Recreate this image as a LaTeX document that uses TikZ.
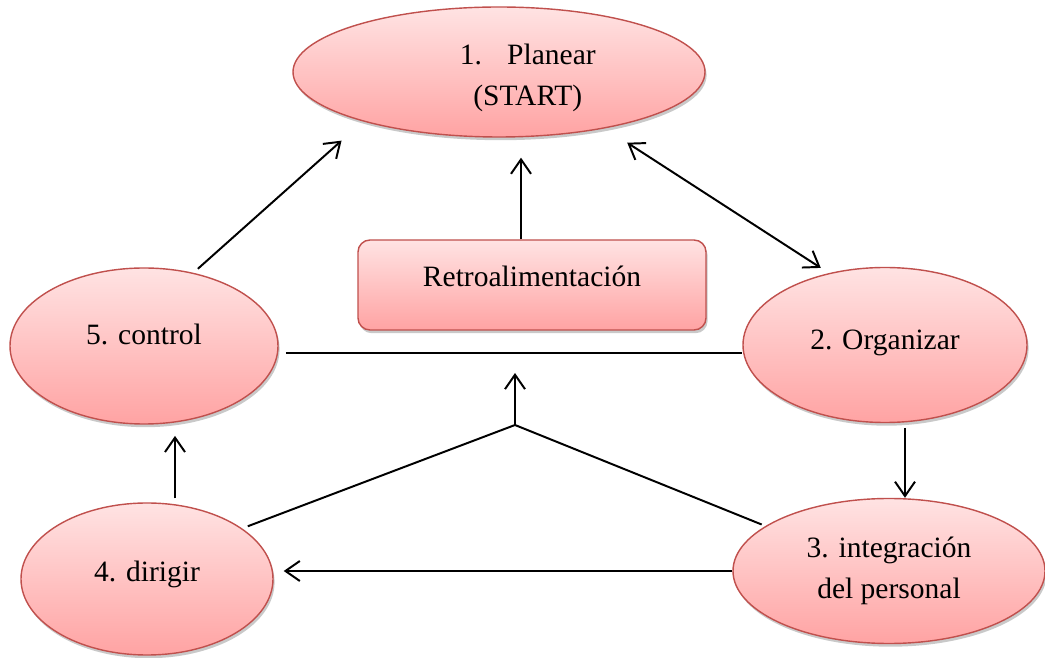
\documentclass[tikz,border=0pt]{standalone}
\usepackage{fontspec}
\setmainfont{Liberation Serif}
\usepackage[HTML]{xcolor}
\usetikzlibrary{positioning, arrows.meta, shapes.geometric, shadows}

\definecolor{pinktop}{HTML}{FFE3E3}
\definecolor{pinkbot}{HTML}{FFA3A3}
\definecolor{rimred}{HTML}{C0504D}

\tikzset{
  box/.style={draw=rimred, line width=1pt, top color=pinktop, bottom color=pinkbot,
    drop shadow={shadow xshift=0.04cm, shadow yshift=-0.08cm, opacity=0.3, fill=black!70},
    font=\fontsize{21}{29}\selectfont, align=center, inner sep=0pt},
  ell/.style={box, ellipse},
  lift/.style={text depth=#1},
  conn/.style={line width=1.4pt, black},
  >={Straight Barb[length=3.6mm, width=5mm]}
}

\begin{document}
\begin{tikzpicture}
\useasboundingbox (0,0) rectangle (26.125,16.425);

% The five stages and the feedback box
\node[ell, minimum width=10.3cm, minimum height=3.25cm,
  label={[font=\fontsize{21}{29}\selectfont, align=center, xshift=0.72cm, yshift=-0.15cm]center:{1.\hspace{0.85em}Planear\\(START)}}] (plan) at (12.475,14.625) {};
\node[box, rounded corners=3mm, minimum width=8.7cm, minimum height=2.25cm, lift=0.45cm] (retro) at (13.3,9.3) {Retroalimentación};
\node[ell, minimum width=6.7cm, minimum height=3.9cm, lift=0.6cm] (ctrl) at (3.6,7.775) {5. control};
\node[ell, minimum width=7.1cm, minimum height=3.875cm, lift=0.25cm] (org) at (22.125,7.8) {2. Organizar};
\node[ell, minimum width=6.3cm, minimum height=3.8cm, lift=0.4cm] (dir) at (3.675,1.95) {4. dirigir};
\node[ell, minimum width=7.8cm, minimum height=3.625cm] (integ) at (22.225,2.15) {3. integración\\del personal};

% Junction of the lower feedback lines
\coordinate (join) at (12.875,5.8);

% Arrows round the cycle
\draw[conn, ->, shorten <=0.15cm, shorten >=0.72cm] (ctrl.56) -- (plan.200);
\draw[conn, ->, shorten >=0.5cm] ([xshift=-0.275cm]retro.north) -- ([xshift=-0.275cm]retro.north |- plan.south);
\draw[conn, <->, shorten <=0.66cm, shorten >=0.24cm] (plan.332) -- (org.128);
\draw[conn, ->, shorten <=0.12cm] ([xshift=0.5cm]org.south) -- ([xshift=0.5cm]org.south |- integ.north);
\draw[conn, ->, shorten >=0.25cm] (integ.west) -- (integ.west -| dir.east);
\draw[conn, ->, shorten <=0.1cm, shorten >=0.28cm] ([xshift=0.7cm]dir.north) -- ([xshift=0.7cm]dir.north |- ctrl.south);

% Feedback lines
\draw[conn, shorten <=0.18cm] ([yshift=-0.175cm]ctrl.east) -- ([yshift=-0.175cm]ctrl.east -| org.west);
\draw[conn, shorten <=0.15cm] (dir.28) -- (join);
\draw[conn, shorten >=0.1cm] (join) -- (integ.160);
\draw[conn, ->] (join) -- ++(0,1.3);

\end{tikzpicture}
\end{document}
